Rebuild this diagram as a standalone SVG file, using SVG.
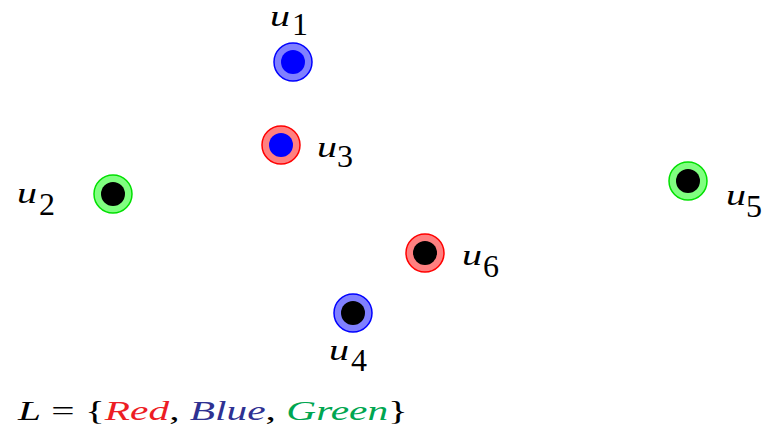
<svg xmlns="http://www.w3.org/2000/svg" width="768" height="435" viewBox="0 0 768 435">
<style>
.ob{fill:#8080ff;stroke:#0000ff;stroke-width:1.5}
.or{fill:#ff8080;stroke:#ff0000;stroke-width:1.5}
.og{fill:#80ff80;stroke:#00e000;stroke-width:1.5}
.ib{fill:#0000ff}
.ik{fill:#000000}
</style>
<rect x="0" y="0" width="768" height="435" fill="#ffffff"/>
<g id="connectors"></g>
<g font-family="Liberation Serif, Times New Roman, DejaVu Serif, serif" fill="#000">
<g id="u1">
<circle class="ob" cx="293" cy="62" r="19"/>
<circle class="ib" cx="293" cy="62" r="12"/>
<text x="270" y="26" font-size="29" font-style="italic" textLength="20" lengthAdjust="spacingAndGlyphs">u</text><text x="292" y="35" font-size="32">1</text>
</g>
<g id="u3">
<circle class="or" cx="281" cy="145" r="19"/>
<circle class="ib" cx="281" cy="145" r="12"/>
<text x="317" y="157" font-size="29" font-style="italic" textLength="20" lengthAdjust="spacingAndGlyphs">u</text><text x="337" y="167" font-size="32">3</text>
</g>
<g id="u2">
<circle class="og" cx="113" cy="194" r="19"/>
<circle class="ik" cx="113" cy="194" r="12"/>
<text x="17" y="203" font-size="29" font-style="italic" textLength="20" lengthAdjust="spacingAndGlyphs">u</text><text x="39" y="215" font-size="32">2</text>
</g>
<g id="u5">
<circle class="og" cx="688" cy="181" r="19"/>
<circle class="ik" cx="688" cy="181" r="12"/>
<text x="726" y="205" font-size="29" font-style="italic" textLength="20" lengthAdjust="spacingAndGlyphs">u</text><text x="746" y="217" font-size="32">5</text>
</g>
<g id="u6">
<circle class="or" cx="425" cy="253" r="19"/>
<circle class="ik" cx="425" cy="253" r="12"/>
<text x="462" y="265" font-size="29" font-style="italic" textLength="20" lengthAdjust="spacingAndGlyphs">u</text><text x="483" y="277" font-size="32">6</text>
</g>
<g id="u4">
<circle class="ob" cx="353" cy="313" r="19"/>
<circle class="ik" cx="353" cy="313" r="12"/>
<text x="329" y="360" font-size="29" font-style="italic" textLength="20" lengthAdjust="spacingAndGlyphs">u</text><text x="351" y="371" font-size="32">4</text>
</g>
<g id="legend">
<text x="18" y="420" font-size="28" textLength="390" lengthAdjust="spacingAndGlyphs"><tspan font-style="italic">L</tspan> = {<tspan font-style="italic" fill="#ed1c24">Red</tspan>, <tspan font-style="italic" fill="#2e3192">Blue</tspan>, <tspan font-style="italic" fill="#00a651">Green</tspan>}</text>
</g>
</g>
</svg>
